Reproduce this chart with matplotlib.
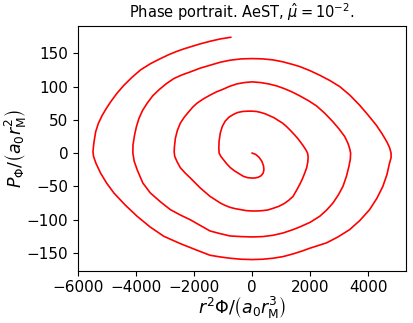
import numpy as np
import matplotlib
matplotlib.use('Agg')
import matplotlib.pyplot as plt

# spiral traced from the centre outwards
phi = [0, 120, 230, 330, 390, 405, 380, 310, 200, 80, 0, -150, -300, -450, -600, -750, -880, -990, -1080, -1140,
       -1150, -1140, -1100, -1030, -930, -800, -650, -500, -330, -150, 0, 150, 300, 450, 609, 760, 900, 1050, 1183,
       1320, 1450, 1570, 1641, 1760, 1850, 1910,
       1930, 1920, 1880, 1813, 1730, 1641, 1530, 1410, 1260, 1100, 920, 722, 540, 350, 170, 0, -200, -400, -590,
       -767, -940, -1100, -1280, -1455, -1630, -1800, -1970, -2143, -2310, -2477, -2590, -2670, -2690,
       -2680, -2649, -2580, -2477, -2340, -2188, -2050, -1902, -1680, -1455, -1230, -1000, -767, -520, -260, 0,
       280, 560, 839, 1100, 1370, 1641, 1930, 2215, 2500, 2786, 3000, 3189, 3300, 3361, 3395,
       3385, 3337, 3250, 3131, 2970, 2786, 2560, 2329, 2000, 1641, 1410, 1070, 722, 360, 0, -380, -767, -1110,
       -1455, -1902, -2143, -2480, -2821, -3170, -3509, -3770, -3966, -4070, -4114,
       -4110, -4056, -3990, -3905, -3780, -3619, -3430, -3216, -2970, -2700, -2420, -2130, -1800, -1455, -1100,
       -767, -380, 0, 370, 722, 1070, 1410, 1641, 1985, 2329, 2680, 3017, 3370, 3705, 4000, 4279, 4480, 4644,
       4740, 4790,
       4790, 4737, 4650, 4507, 4300, 4049, 3720, 3361, 2960, 2559, 2270, 1985, 1700, 1410, 1070, 722, 360, 0,
       -380, -767, -1110, -1455, -1902, -2480, -3048, -3520, -3966, -4380, -4768, -5020, -5229, -5390, -5470, -5490,
       -5460, -5397, -5300, -5167, -5030, -4880, -4660, -4420, -4140, -3849, -3500, -3161, -2870, -2587, -2360,
       -2140, -1800, -1452, -1100, -740]
p_phi = [0, -2, -6, -12, -19, -25, -30, -34, -36.5, -37.5, -37.5, -37, -35, -31, -27, -22, -16, -10, -5, 0,
         8, 18, 30, 40, 48, 54, 58, 61, 62.5, 63, 63, 62.5, 61, 59, 56, 53, 49, 45, 40,
         34, 28, 22, 18, 11, 5, 0,
         -6, -13, -22, -30, -39, -47, -56, -65, -71, -76, -80, -83, -85.5, -86.5, -87, -87, -86.5, -85, -83.5,
         -81.5, -78.5, -75, -70, -65, -58.5, -52, -44.5, -37, -30, -22, -13, -5, 2,
         10, 22, 34, 45, 54, 62, 69, 75, 81.5, 87, 92, 96, 100.5, 104, 106, 107,
         106, 104, 101, 97, 92, 86, 79, 71, 60, 47, 36, 25, 15, 7, 0,
         -9, -20, -35, -50, -63, -75, -86, -95, -104, -111, -115, -120, -123.5, -125.5, -126, -125.5, -124.5, -121,
         -117, -106, -100, -93, -85, -73, -60, -45, -25, -12, 0,
         12, 27, 40, 52, 64, 75, 86, 95, 104, 112, 117.5, 122, 127.5, 132, 136.5,
         139.5, 141.5, 142, 141.5, 140, 137, 133, 130, 124, 117, 109, 100, 87, 72, 57, 42, 29, 17,
         8, 0,
         -7, -15, -32, -50, -68, -85, -101, -115, -126, -135, -139, -143, -147.5, -151.5, -155.5, -158, -159.5, -160,
         -159.5, -158, -156, -153.5, -146, -136, -125, -111, -95, -78, -60, -45, -30, -15, -5, 2,
         15, 32, 45, 57, 67, 77, 90, 102, 114, 125, 134.5, 142, 148, 153, 156.5,
         159.5, 164, 168, 171.5, 174]

fig = plt.figure(figsize=(4.13, 3.23), dpi=100)
ax = fig.add_axes([0.189, 0.162, 0.794, 0.757])
ax.plot(phi, p_phi, color='red', linewidth=1.2)
ax.set_title(r'Phase portrait. AeST, $\hat{\mu}=10^{-2}$.', fontsize=10.5)
ax.set_xlabel(r'$r^2\Phi/\left(a_0 r_\mathrm{M}^3\right)$', fontsize=12.5, labelpad=-1)
ax.set_ylabel(r'$P_\Phi/\left(a_0 r_\mathrm{M}^2\right)$', fontsize=12.5, labelpad=-1)
ax.set_xticks([-6000, -4000, -2000, 0, 2000, 4000])
ax.set_yticks([-150, -100, -50, 0, 50, 100, 150])
ax.tick_params(labelsize=11)
fig.savefig('out.png', dpi=100)
